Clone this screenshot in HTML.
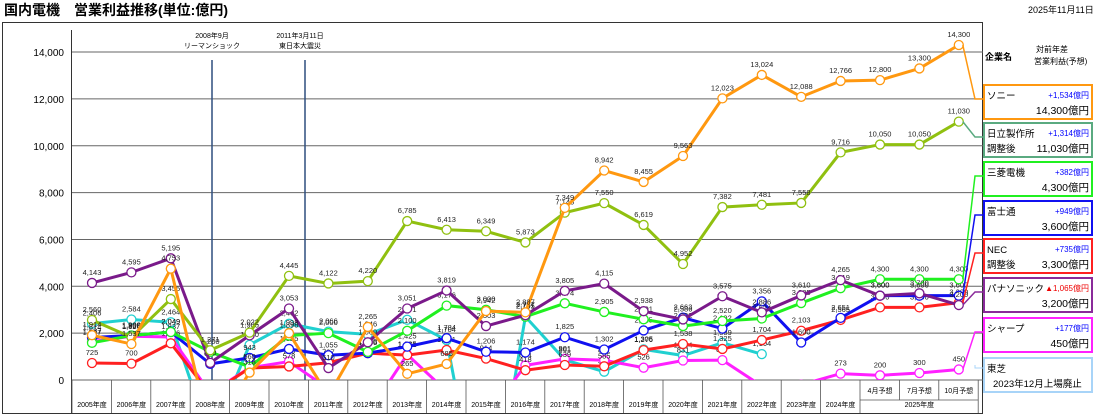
<!DOCTYPE html>
<html><head><meta charset="utf-8"><style>
html,body{margin:0;padding:0;background:#fff;width:1100px;height:417px;overflow:hidden;font-family:"Liberation Sans","Noto Sans CJK JP",sans-serif}
svg{display:block}
</style></head><body>
<svg id="s" width="1100" height="417" xmlns="http://www.w3.org/2000/svg" font-family="Liberation Sans, Noto Sans CJK JP, sans-serif">
<text x="4" y="15" font-size="14" font-weight="bold">国内電機　営業利益推移(単位:億円)</text>
<text x="1028" y="13" font-size="9">2025年11月11日</text>
<rect x="2.5" y="22.5" width="980" height="391" fill="none" stroke="#333"/>
<g id="g"></g>
</svg>
<script>
var s=document.getElementById('g'),h='';
function X(i){return 92+39.4*i}function Y(v){return 380-v/2000*46.85}
for(var v=0;v<=14000;v+=2000){var y=Y(v);h+='<line x1="71" x2="983" y1="'+y+'" y2="'+y+'" stroke="#666" stroke-width="1"/>';
h+='<text x="64" y="'+(y+4)+'" font-size="10" text-anchor="end">'+v.toLocaleString('en')+'</text>';}
h+='<line x1="71.5" x2="71.5" y1="30" y2="413" stroke="#333"/>';
for(var i=0;i<=23;i++){var x=72+39.4*i;h+='<line x1="'+x+'" x2="'+x+'" y1="380" y2="'+(i>20&&i<23?400:413)+'" stroke="#555" stroke-width="0.8"/>';}
for(var i=0;i<20;i++)h+='<text x="'+X(i)+'" y="407" font-size="7" text-anchor="middle">'+(2005+i)+'年度</text>';
['4月予想','7月予想','10月予想'].forEach(function(t,i){h+='<text x="'+X(20+i)+'" y="393" font-size="7" text-anchor="middle">'+t+'</text>'});
h+='<line x1="860" x2="978" y1="400" y2="400" stroke="#555" stroke-width="0.8"/>';
h+='<text x="'+X(21)+'" y="407" font-size="7" text-anchor="middle">2025年度</text>';
h+='<line x1="212" x2="212" y1="60" y2="380" stroke="#2f4f7f" stroke-width="1.5"/><line x1="305" x2="305" y1="60" y2="380" stroke="#2f4f7f" stroke-width="1.5"/>';
h+='<text x="212" y="38" font-size="7" text-anchor="middle">2008年9月</text><text x="212" y="48" font-size="7" text-anchor="middle">リーマンショック</text>';
h+='<text x="300" y="38" font-size="7" text-anchor="middle">2011年3月11日</text><text x="300" y="48" font-size="7" text-anchor="middle">東日本大震災</text>';
var D=[
['#20d0d0',[2406,2584,2464,-2502,1500,2402,2066,1946,2571,1704,-7087,2705,861,354,1305,1044,1589,1104]],
['#ff20ff',[1637,1865,1837,-555,519,789,-376,-1462,1085,-480,-1619,624,901,841,526,831,847,-257,-203,273,200,300,450]],
['#ff2020',[725,700,1566,-600,509,578,737,1146,1062,1281,914,418,639,585,1276,1538,1325,1704,2103,2565,3100,3100,3300]],
['#1010f0',[1814,1900,2049,687,943,1325,1055,1146,1425,1784,1206,1174,1825,1302,2115,2663,2192,3356,1600,2651,3600,3600,3600]],
['#20f020',[1587,1900,2049,1200,560,1898,2000,1200,2100,3176,3000,2701,3274,2905,2591,2302,2520,2624,3285,3919,4300,4300,4300]],
['#7a1a8a',[4143,4595,5195,730,1905,3053,510,1609,3051,3819,2303,2767,3805,4115,2938,2586,3575,2886,3610,4265,3600,3700,3200]],
['#90c010',[2560,1826,3455,1271,2022,4445,4122,4220,6785,6413,6349,5873,7146,7550,6619,4952,7382,7481,7558,9716,10050,10050,11030]],
['#ff9810',[1914,1537,4753,-2278,318,1998,-673,2265,265,685,2942,2887,7349,8942,8455,9563,12023,13024,12088,12766,12800,13300,14300]]];
h+='<clipPath id="c"><rect x="72" y="30" width="911" height="350"/></clipPath><g clip-path="url(#c)">';
D.forEach(function(d){var p=d[1].map(function(v,i){return X(i)+','+Y(v)}).join(' ');
h+='<polyline points="'+p+'" fill="none" stroke="'+d[0]+'" stroke-width="3"/>';
d[1].forEach(function(v,i){h+='<circle cx="'+X(i)+'" cy="'+Y(v)+'" r="4.5" fill="#fff" stroke="'+d[0]+'" stroke-width="1.3"/>';
if(v>=0)h+='<text x="'+X(i)+'" y="'+(Y(v)-8)+'" font-size="7.5" text-anchor="middle" fill="#222">'+v.toLocaleString('en')+'</text>';});});
h+='</g>';
h+='<text x="985" y="60" font-size="9" font-weight="bold">企業名</text><text x="1036" y="52" font-size="8">対前年差</text><text x="1034" y="64" font-size="8">営業利益(予想)</text>';
var L=[['#ff9810',85,'ソニー','','+1,534億円','14,300億円',X(22),Y(14300)],
['#5aaa80',123,'日立製作所','調整後','+1,314億円','11,030億円',X(22),Y(11030)],
['#20f020',162,'三菱電機','','+382億円','4,300億円',X(22),Y(4300)],
['#1010f0',201,'富士通','','+949億円','3,600億円',X(22),Y(3600)],
['#ff2020',239,'NEC','調整後','+735億円','3,300億円',X(22),Y(3300)],
['#8a2a9a',278,'パナソニック','','▲1,065億円','3,200億円',X(22),Y(3200)],
['#ff20ff',318,'シャープ','','+177億円','450億円',X(22),Y(450)]];
L.forEach(function(l){var y=l[1];h+='<rect x="984" y="'+y+'" width="108" height="34" fill="#fff" stroke="'+l[0]+'" stroke-width="2"/>';
h+='<polyline points="'+(l[6]+4)+','+l[7]+' 975,'+(y+14)+' 984,'+(y+14)+'" fill="none" stroke="'+l[0]+'" stroke-width="1.5"/>';
h+='<text x="987" y="'+(y+14)+'" font-size="9.5">'+l[2]+'</text>';if(l[3])h+='<text x="987" y="'+(y+29)+'" font-size="9.5">'+l[3]+'</text>';
h+='<text x="1089" y="'+(y+13)+'" font-size="8" text-anchor="end" fill="'+(l[4][0]=='▲'?'#e00':'#00f')+'">'+l[4]+'</text>';
h+='<text x="1089" y="'+(y+29)+'" font-size="10.5" text-anchor="end">'+l[5]+'</text>';});
h+='<rect x="984" y="358" width="108" height="34" fill="#fff" stroke="#a8d4f8" stroke-width="2"/><polyline points="975,365 975,368 984,368" fill="none" stroke="#a8d4f8"/>';
h+='<text x="987" y="372" font-size="9.5">東芝</text><text x="993" y="387" font-size="9.5">2023年12月上場廃止</text>';
s.innerHTML=h;
</script>
</body></html>
